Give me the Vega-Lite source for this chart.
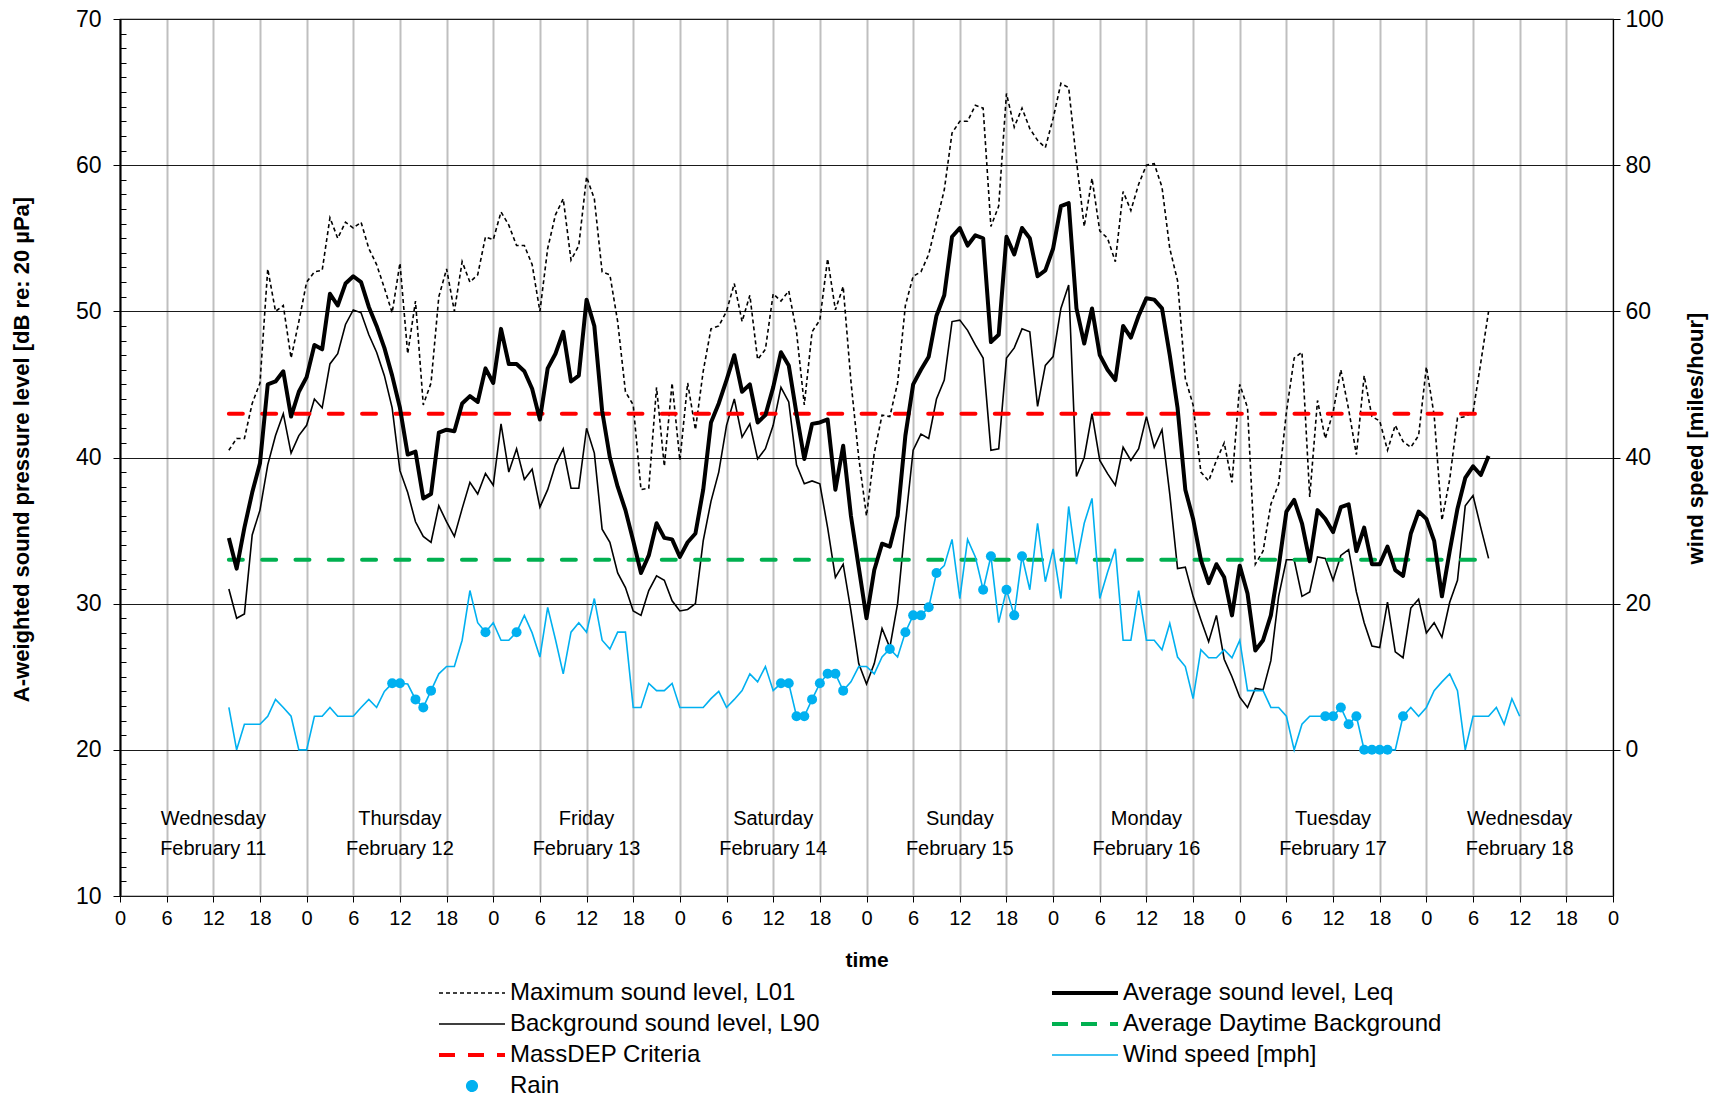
{
"$schema": "https://vega.github.io/schema/vega-lite/v6.json",
"width": 1493, "height": 877,
"autosize": {"type": "none"},
"padding": {"left": 120, "top": 19, "right": 108, "bottom": 204},
"background": "white",
"config": {
  "font": "Liberation Sans",
  "view": {"stroke": "#000", "strokeWidth": 1.2},
  "axis": {"labelFont": "Liberation Sans", "titleFont": "Liberation Sans", "labelColor": "#000", "titleColor": "#000", "tickColor": "#000", "domainColor": "#000"}
},
"datasets": {
"main": [
{"t":14,"L01":40.5,"Leq":34.5,"L90":31.0},{"t":15,"L01":41.3,"Leq":32.4,"L90":29.0},{"t":16,"L01":41.3,"Leq":35.2,"L90":29.3},{"t":17,"L01":43.7,"Leq":37.6,"L90":34.7},{"t":18,"L01":45.1,"Leq":39.6,"L90":36.4},{"t":19,"L01":52.9,"Leq":45.0,"L90":39.5},{"t":20,"L01":50.0,"Leq":45.2,"L90":41.5},{"t":21,"L01":50.4,"Leq":45.9,"L90":43.0},{"t":22,"L01":46.8,"Leq":42.8,"L90":40.3},{"t":23,"L01":49.3,"Leq":44.5,"L90":41.5},
{"t":24,"L01":52.0,"Leq":45.5,"L90":42.2},{"t":25,"L01":52.7,"Leq":47.7,"L90":44.0},{"t":26,"L01":52.8,"Leq":47.4,"L90":43.4},{"t":27,"L01":56.4,"Leq":51.2,"L90":46.4},{"t":28,"L01":55.0,"Leq":50.4,"L90":47.1},{"t":29,"L01":56.1,"Leq":51.9,"L90":49.1},{"t":30,"L01":55.7,"Leq":52.4,"L90":50.1},{"t":31,"L01":56.1,"Leq":52.0,"L90":49.9},{"t":32,"L01":54.3,"Leq":50.3,"L90":48.4},{"t":33,"L01":53.2,"Leq":49.0,"L90":47.2},
{"t":34,"L01":51.6,"Leq":47.5,"L90":45.6},{"t":35,"L01":49.9,"Leq":45.6,"L90":43.4},{"t":36,"L01":53.3,"Leq":43.4,"L90":39.1},{"t":37,"L01":47.1,"Leq":40.2,"L90":37.6},{"t":38,"L01":50.7,"Leq":40.4,"L90":35.6},{"t":39,"L01":43.6,"Leq":37.2,"L90":34.6},{"t":40,"L01":45.1,"Leq":37.5,"L90":34.2},{"t":41,"L01":51.0,"Leq":41.7,"L90":36.7},{"t":42,"L01":52.9,"Leq":41.9,"L90":35.6},{"t":43,"L01":50.0,"Leq":41.8,"L90":34.6},
{"t":44,"L01":53.4,"Leq":43.7,"L90":36.5},{"t":45,"L01":52.0,"Leq":44.2,"L90":38.3},{"t":46,"L01":52.5,"Leq":43.8,"L90":37.5},{"t":47,"L01":55.1,"Leq":46.1,"L90":38.9},{"t":48,"L01":54.9,"Leq":45.1,"L90":38.1},{"t":49,"L01":56.8,"Leq":48.8,"L90":42.3},{"t":50,"L01":55.9,"Leq":46.4,"L90":39.0},{"t":51,"L01":54.5,"Leq":46.4,"L90":40.6},{"t":52,"L01":54.5,"Leq":45.9,"L90":38.5},{"t":53,"L01":53.2,"Leq":44.7,"L90":39.2},
{"t":54,"L01":50.0,"Leq":42.6,"L90":36.6},{"t":55,"L01":54.3,"Leq":46.1,"L90":37.8},{"t":56,"L01":56.6,"Leq":47.1,"L90":39.5},{"t":57,"L01":57.7,"Leq":48.6,"L90":40.6},{"t":58,"L01":53.5,"Leq":45.2,"L90":37.9},{"t":59,"L01":54.5,"Leq":45.6,"L90":37.9},{"t":60,"L01":59.2,"Leq":50.8,"L90":42.0},{"t":61,"L01":57.7,"Leq":49.0,"L90":40.3},{"t":62,"L01":52.7,"Leq":43.2,"L90":35.1},{"t":63,"L01":52.5,"Leq":40.0,"L90":34.2},
{"t":64,"L01":49.3,"Leq":38.0,"L90":32.1},{"t":65,"L01":44.5,"Leq":36.4,"L90":31.1},{"t":66,"L01":43.6,"Leq":34.3,"L90":29.5},{"t":67,"L01":37.8,"Leq":32.1,"L90":29.2},{"t":68,"L01":37.9,"Leq":33.3,"L90":30.9},{"t":69,"L01":44.8,"Leq":35.5,"L90":31.9},{"t":70,"L01":39.4,"Leq":34.5,"L90":31.6},{"t":71,"L01":45.1,"Leq":34.4,"L90":30.2},{"t":72,"L01":39.8,"Leq":33.2,"L90":29.5},{"t":73,"L01":45.1,"Leq":34.2,"L90":29.6},
{"t":74,"L01":41.9,"Leq":34.8,"L90":30.0},{"t":75,"L01":45.9,"Leq":37.8,"L90":34.3},{"t":76,"L01":48.8,"Leq":42.4,"L90":37.0},{"t":77,"L01":49.0,"Leq":43.7,"L90":39.0},{"t":78,"L01":50.0,"Leq":45.3,"L90":42.2},{"t":79,"L01":51.9,"Leq":47.0,"L90":44.0},{"t":80,"L01":49.3,"Leq":44.5,"L90":41.4},{"t":81,"L01":51.1,"Leq":45.0,"L90":42.3},{"t":82,"L01":46.7,"Leq":42.4,"L90":39.9},{"t":83,"L01":47.4,"Leq":42.9,"L90":40.6},
{"t":84,"L01":51.2,"Leq":44.8,"L90":42.2},{"t":85,"L01":50.7,"Leq":47.2,"L90":44.8},{"t":86,"L01":51.4,"Leq":46.3,"L90":43.8},{"t":87,"L01":48.6,"Leq":43.0,"L90":39.5},{"t":88,"L01":43.6,"Leq":39.9,"L90":38.2},{"t":89,"L01":48.6,"Leq":42.3,"L90":38.4},{"t":90,"L01":49.4,"Leq":42.4,"L90":38.2},{"t":91,"L01":53.6,"Leq":42.6,"L90":35.2},{"t":92,"L01":50.1,"Leq":37.8,"L90":31.8},{"t":93,"L01":51.7,"Leq":40.8,"L90":32.7},
{"t":94,"L01":45.2,"Leq":36.0,"L90":29.5},{"t":95,"L01":40.0,"Leq":32.5,"L90":25.9},{"t":96,"L01":36.0,"Leq":29.0,"L90":24.5},{"t":97,"L01":40.3,"Leq":32.3,"L90":25.9},{"t":98,"L01":42.9,"Leq":34.1,"L90":28.3},{"t":99,"L01":42.8,"Leq":33.9,"L90":27.0},{"t":100,"L01":45.1,"Leq":36.0,"L90":30.0},{"t":101,"L01":50.4,"Leq":41.5,"L90":35.5},{"t":102,"L01":52.4,"Leq":45.0,"L90":40.5},{"t":103,"L01":52.7,"Leq":46.0,"L90":41.6},
{"t":104,"L01":53.9,"Leq":46.9,"L90":41.3},{"t":105,"L01":56.1,"Leq":49.7,"L90":44.0},{"t":106,"L01":58.3,"Leq":51.1,"L90":45.3},{"t":107,"L01":62.2,"Leq":55.1,"L90":49.3},{"t":108,"L01":63.0,"Leq":55.7,"L90":49.4},{"t":109,"L01":63.0,"Leq":54.5,"L90":48.7},{"t":110,"L01":64.1,"Leq":55.2,"L90":47.7},{"t":111,"L01":63.9,"Leq":55.0,"L90":46.8},{"t":112,"L01":55.8,"Leq":47.9,"L90":40.5},{"t":113,"L01":57.2,"Leq":48.4,"L90":40.6},
{"t":114,"L01":64.9,"Leq":55.1,"L90":46.8},{"t":115,"L01":62.6,"Leq":53.9,"L90":47.5},{"t":116,"L01":63.9,"Leq":55.7,"L90":48.8},{"t":117,"L01":62.5,"Leq":55.0,"L90":48.6},{"t":118,"L01":61.7,"Leq":52.4,"L90":43.5},{"t":119,"L01":61.2,"Leq":52.8,"L90":46.3},{"t":120,"L01":63.2,"Leq":54.3,"L90":46.9},{"t":121,"L01":65.6,"Leq":57.2,"L90":50.2},{"t":122,"L01":65.3,"Leq":57.4,"L90":51.8},{"t":123,"L01":60.3,"Leq":50.2,"L90":38.7},
{"t":124,"L01":55.8,"Leq":47.8,"L90":40.0},{"t":125,"L01":59.1,"Leq":50.2,"L90":43.0},{"t":126,"L01":55.5,"Leq":47.0,"L90":39.8},{"t":127,"L01":55.0,"Leq":46.0,"L90":38.9},{"t":128,"L01":53.4,"Leq":45.3,"L90":38.1},{"t":129,"L01":58.2,"Leq":49.0,"L90":40.7},{"t":130,"L01":56.9,"Leq":48.2,"L90":39.8},{"t":131,"L01":58.7,"Leq":49.7,"L90":40.6},{"t":132,"L01":60.0,"Leq":50.9,"L90":42.8},{"t":133,"L01":60.1,"Leq":50.8,"L90":40.7},
{"t":134,"L01":58.5,"Leq":50.2,"L90":41.9},{"t":135,"L01":54.3,"Leq":47.0,"L90":37.5},{"t":136,"L01":52.1,"Leq":43.4,"L90":32.4},{"t":137,"L01":45.4,"Leq":37.8,"L90":32.5},{"t":138,"L01":43.6,"Leq":35.8,"L90":30.5},{"t":139,"L01":39.0,"Leq":33.0,"L90":28.9},{"t":140,"L01":38.4,"Leq":31.4,"L90":27.4},{"t":141,"L01":39.8,"Leq":32.7,"L90":29.2},{"t":142,"L01":41.0,"Leq":31.8,"L90":26.2},{"t":143,"L01":38.3,"Leq":29.2,"L90":25.0},
{"t":144,"L01":45.0,"Leq":32.6,"L90":23.6},{"t":145,"L01":43.4,"Leq":30.7,"L90":22.9},{"t":146,"L01":32.7,"Leq":26.8,"L90":24.2},{"t":147,"L01":33.6,"Leq":27.5,"L90":24.1},{"t":148,"L01":36.8,"Leq":29.2,"L90":26.1},{"t":149,"L01":38.2,"Leq":32.5,"L90":30.5},{"t":150,"L01":43.1,"Leq":36.3,"L90":33.0},{"t":151,"L01":46.8,"Leq":37.1,"L90":33.0},{"t":152,"L01":47.2,"Leq":35.5,"L90":30.5},{"t":153,"L01":37.3,"Leq":32.9,"L90":30.8},
{"t":154,"L01":43.9,"Leq":36.4,"L90":33.2},{"t":155,"L01":41.3,"Leq":35.8,"L90":33.1},{"t":156,"L01":43.1,"Leq":34.9,"L90":31.6},{"t":157,"L01":46.0,"Leq":36.6,"L90":33.3},{"t":158,"L01":43.3,"Leq":36.8,"L90":33.7},{"t":159,"L01":40.2,"Leq":33.6,"L90":30.8},{"t":160,"L01":45.6,"Leq":35.2,"L90":28.7},{"t":161,"L01":42.8,"Leq":32.7,"L90":27.1},{"t":162,"L01":42.5,"Leq":32.7,"L90":27.0},{"t":163,"L01":40.5,"Leq":33.9,"L90":30.1},
{"t":164,"L01":42.2,"Leq":32.3,"L90":26.7},{"t":165,"L01":41.1,"Leq":31.9,"L90":26.3},{"t":166,"L01":40.7,"Leq":34.8,"L90":29.7},{"t":167,"L01":41.5,"Leq":36.3,"L90":30.3},{"t":168,"L01":46.2,"Leq":35.8,"L90":28.0},{"t":169,"L01":42.9,"Leq":34.3,"L90":28.7},{"t":170,"L01":35.7,"Leq":30.5,"L90":27.7},{"t":171,"L01":38.5,"Leq":33.6,"L90":30.1},{"t":172,"L01":42.7,"Leq":36.5,"L90":31.6},{"t":173,"L01":42.8,"Leq":38.6,"L90":36.7},
{"t":174,"L01":43.1,"Leq":39.4,"L90":37.4},{"t":175,"L01":46.5,"Leq":38.8,"L90":35.2},{"t":176,"L01":50.0,"Leq":40.1,"L90":33.1}
],
"wind": [
{"t":14,"wind":5.8,"rain":0},{"t":15,"wind":0,"rain":0},{"t":16,"wind":3.5,"rain":0},{"t":17,"wind":3.5,"rain":0},{"t":18,"wind":3.5,"rain":0},{"t":19,"wind":4.6,"rain":0},{"t":20,"wind":6.9,"rain":0},{"t":21,"wind":5.8,"rain":0},{"t":22,"wind":4.6,"rain":0},{"t":23,"wind":0,"rain":0},
{"t":24,"wind":0,"rain":0},{"t":25,"wind":4.6,"rain":0},{"t":26,"wind":4.6,"rain":0},{"t":27,"wind":5.8,"rain":0},{"t":28,"wind":4.6,"rain":0},{"t":29,"wind":4.6,"rain":0},{"t":30,"wind":4.6,"rain":0},{"t":31,"wind":5.8,"rain":0},{"t":32,"wind":6.9,"rain":0},{"t":33,"wind":5.8,"rain":0},
{"t":34,"wind":8.0,"rain":0},{"t":35,"wind":9.1,"rain":1},{"t":36,"wind":9.1,"rain":1},{"t":37,"wind":9.0,"rain":0},{"t":38,"wind":6.9,"rain":1},{"t":39,"wind":5.8,"rain":1},{"t":40,"wind":8.1,"rain":1},{"t":41,"wind":10.4,"rain":0},{"t":42,"wind":11.4,"rain":0},{"t":43,"wind":11.4,"rain":0},
{"t":44,"wind":15.0,"rain":0},{"t":45,"wind":21.8,"rain":0},{"t":46,"wind":17.4,"rain":0},{"t":47,"wind":16.1,"rain":1},{"t":48,"wind":17.4,"rain":0},{"t":49,"wind":15.0,"rain":0},{"t":50,"wind":15.0,"rain":0},{"t":51,"wind":16.1,"rain":1},{"t":52,"wind":18.4,"rain":0},{"t":53,"wind":16.0,"rain":0},
{"t":54,"wind":12.7,"rain":0},{"t":55,"wind":19.5,"rain":0},{"t":56,"wind":15.1,"rain":0},{"t":57,"wind":10.4,"rain":0},{"t":58,"wind":16.1,"rain":0},{"t":59,"wind":17.4,"rain":0},{"t":60,"wind":16.1,"rain":0},{"t":61,"wind":20.7,"rain":0},{"t":62,"wind":15.0,"rain":0},{"t":63,"wind":13.8,"rain":0},
{"t":64,"wind":16.1,"rain":0},{"t":65,"wind":16.1,"rain":0},{"t":66,"wind":5.8,"rain":0},{"t":67,"wind":5.8,"rain":0},{"t":68,"wind":9.1,"rain":0},{"t":69,"wind":8.1,"rain":0},{"t":70,"wind":8.1,"rain":0},{"t":71,"wind":9.1,"rain":0},{"t":72,"wind":5.8,"rain":0},{"t":73,"wind":5.8,"rain":0},
{"t":74,"wind":5.8,"rain":0},{"t":75,"wind":5.8,"rain":0},{"t":76,"wind":7.0,"rain":0},{"t":77,"wind":8.0,"rain":0},{"t":78,"wind":5.8,"rain":0},{"t":79,"wind":6.9,"rain":0},{"t":80,"wind":8.1,"rain":0},{"t":81,"wind":10.4,"rain":0},{"t":82,"wind":9.3,"rain":0},{"t":83,"wind":11.4,"rain":0},
{"t":84,"wind":8.1,"rain":0},{"t":85,"wind":9.1,"rain":1},{"t":86,"wind":9.1,"rain":1},{"t":87,"wind":4.6,"rain":1},{"t":88,"wind":4.6,"rain":1},{"t":89,"wind":6.9,"rain":1},{"t":90,"wind":9.1,"rain":1},{"t":91,"wind":10.4,"rain":1},{"t":92,"wind":10.4,"rain":1},{"t":93,"wind":8.1,"rain":1},
{"t":94,"wind":9.3,"rain":0},{"t":95,"wind":11.4,"rain":0},{"t":96,"wind":11.4,"rain":0},{"t":97,"wind":10.4,"rain":0},{"t":98,"wind":12.7,"rain":0},{"t":99,"wind":13.8,"rain":1},{"t":100,"wind":12.7,"rain":0},{"t":101,"wind":16.1,"rain":1},{"t":102,"wind":18.4,"rain":1},{"t":103,"wind":18.4,"rain":1},
{"t":104,"wind":19.5,"rain":1},{"t":105,"wind":24.2,"rain":1},{"t":106,"wind":25.2,"rain":0},{"t":107,"wind":28.8,"rain":0},{"t":108,"wind":20.7,"rain":0},{"t":109,"wind":28.8,"rain":0},{"t":110,"wind":26.4,"rain":0},{"t":111,"wind":21.9,"rain":1},{"t":112,"wind":26.5,"rain":1},{"t":113,"wind":17.4,"rain":0},
{"t":114,"wind":21.9,"rain":1},{"t":115,"wind":18.4,"rain":1},{"t":116,"wind":26.5,"rain":1},{"t":117,"wind":21.9,"rain":0},{"t":118,"wind":31.0,"rain":0},{"t":119,"wind":23.0,"rain":0},{"t":120,"wind":27.5,"rain":0},{"t":121,"wind":20.7,"rain":0},{"t":122,"wind":33.3,"rain":0},{"t":123,"wind":25.4,"rain":0},
{"t":124,"wind":31.0,"rain":0},{"t":125,"wind":34.4,"rain":0},{"t":126,"wind":20.7,"rain":0},{"t":127,"wind":24.3,"rain":0},{"t":128,"wind":27.5,"rain":0},{"t":129,"wind":15.0,"rain":0},{"t":130,"wind":15.0,"rain":0},{"t":131,"wind":21.8,"rain":0},{"t":132,"wind":15.0,"rain":0},{"t":133,"wind":15.0,"rain":0},
{"t":134,"wind":13.7,"rain":0},{"t":135,"wind":17.3,"rain":0},{"t":136,"wind":12.7,"rain":0},{"t":137,"wind":11.4,"rain":0},{"t":138,"wind":7.0,"rain":0},{"t":139,"wind":13.7,"rain":0},{"t":140,"wind":12.6,"rain":0},{"t":141,"wind":12.6,"rain":0},{"t":142,"wind":13.7,"rain":0},{"t":143,"wind":12.6,"rain":0},
{"t":144,"wind":15.0,"rain":0},{"t":145,"wind":8.1,"rain":0},{"t":146,"wind":8.1,"rain":0},{"t":147,"wind":8.1,"rain":0},{"t":148,"wind":5.8,"rain":0},{"t":149,"wind":5.8,"rain":0},{"t":150,"wind":4.6,"rain":0},{"t":151,"wind":0,"rain":0},{"t":152,"wind":3.5,"rain":0},{"t":153,"wind":4.6,"rain":0},
{"t":154,"wind":4.6,"rain":0},{"t":155,"wind":4.6,"rain":1},{"t":156,"wind":4.6,"rain":1},{"t":157,"wind":5.8,"rain":1},{"t":158,"wind":3.5,"rain":1},{"t":159,"wind":4.6,"rain":1},{"t":160,"wind":0,"rain":1},{"t":161,"wind":0,"rain":1},{"t":162,"wind":0,"rain":1},{"t":163,"wind":0,"rain":1},
{"t":164,"wind":0,"rain":0},{"t":165,"wind":4.6,"rain":1},{"t":166,"wind":5.8,"rain":0},{"t":167,"wind":4.6,"rain":0},{"t":168,"wind":5.8,"rain":0},{"t":169,"wind":8.1,"rain":0},{"t":170,"wind":9.3,"rain":0},{"t":171,"wind":10.4,"rain":0},{"t":172,"wind":8.1,"rain":0},{"t":173,"wind":0,"rain":0},
{"t":174,"wind":4.6,"rain":0},{"t":175,"wind":4.6,"rain":0},{"t":176,"wind":4.6,"rain":0},{"t":177,"wind":5.8,"rain":0},{"t":178,"wind":3.5,"rain":0},{"t":179,"wind":7.0,"rain":0},{"t":180,"wind":4.6,"rain":0}
],
"crit": [{"t":14,"MassDEP":43,"Daytime":33},{"t":176,"MassDEP":43,"Daytime":33}],
"days": [
{"t":12,"label":"Wednesday\nFebruary 11"},{"t":36,"label":"Thursday\nFebruary 12"},{"t":60,"label":"Friday\nFebruary 13"},{"t":84,"label":"Saturday\nFebruary 14"},
{"t":108,"label":"Sunday\nFebruary 15"},{"t":132,"label":"Monday\nFebruary 16"},{"t":156,"label":"Tuesday\nFebruary 17"},{"t":180,"label":"Wednesday\nFebruary 18"}
]
},
"encoding": {
  "x": {"field": "t", "type": "quantitative", "title": "time",
    "scale": {"domain": [0, 192], "nice": false, "zero": false},
    "axis": {"values": [0,6,12,18,24,30,36,42,48,54,60,66,72,78,84,90,96,102,108,114,120,126,132,138,144,150,156,162,168,174,180,186,192],
      "tickCount": 40, "labelExpr": "'' + (datum.value % 24)", "grid": true, "gridColor": "#BFBFBF", "gridWidth": 2, "domain": false,
      "tickSize": 6, "labelFontSize": 20, "labelPadding": 6, "labelFlush": false, "labelOverlap": false,
      "titleFontSize": 21, "titleFontWeight": "bold", "titlePadding": 21}}
},
"layer": [
 {"layer": [
  {"data": {"name": "days"},
   "mark": {"type": "text", "fontSize": 20, "lineBreak": "\n", "lineHeight": 30, "baseline": "middle", "align": "center", "font": "Liberation Sans", "color": "#000"},
   "encoding": {"y": {"datum": 15.3, "type": "quantitative", "scale": {"domain": [10, 70], "nice": false, "zero": false}}, "text": {"field": "label"}}},
  {"data": {"name": "main"},
   "mark": {"type": "line", "strokeWidth": 1.6, "strokeDash": [4, 3]},
   "encoding": {
     "y": {"field": "L01", "type": "quantitative", "title": "A-weighted sound pressure level [dB re: 20 µPa]",
       "scale": {"domain": [10, 70], "nice": false, "zero": false},
       "axis": {"values": [10,11,12,13,14,15,16,17,18,19,20,21,22,23,24,25,26,27,28,29,30,31,32,33,34,35,36,37,38,39,40,41,42,43,44,45,46,47,48,49,50,51,52,53,54,55,56,57,58,59,60,61,62,63,64,65,66,67,68,69,70],
         "tickCount": 61,
         "labelExpr": "abs(datum.value / 10 - round(datum.value / 10)) < 0.01 ? format(round(datum.value), 'd') : ''", "labelOverlap": false, "labelBound": false,
         "grid": true, "gridColor": "#1a1a1a", "gridWidth": 1,
         "gridOpacity": {"condition": {"test": "abs(datum.value / 10 - round(datum.value / 10)) > 0.01", "value": 0}, "value": 1},
         "domain": true, "domainWidth": 2,
         "tickSize": {"condition": {"test": "abs(datum.value / 10 - round(datum.value / 10)) < 0.01", "value": 7}, "value": -6},
         "labelFontSize": 23, "labelPadding": 12, "titleFontSize": 22, "titleFontWeight": "bold", "titlePadding": 42, "titleY": 430}},
     "color": {"datum": "Maximum sound level, L01",
       "scale": {"domain": ["Maximum sound level, L01", "Average sound level, Leq", "Background sound level, L90", "Average Daytime Background", "MassDEP Criteria", "Wind speed [mph]", "Rain"],
                 "range": ["#000000", "#000000", "#000000", "#00B050", "#FF0000", "#00B0F0", "#00B0F0"]},
       "legend": {"orient": "none", "legendX": 318, "legendY": 962, "direction": "horizontal", "columns": 2, "columnPadding": 224, "rowPadding": 7, "title": null,
         "symbolType": "stroke", "symbolSize": 4356, "symbolStrokeWidth": 1.6, "symbolOffset": 22, "labelFont": "Liberation Sans", "labelFontSize": 24, "labelColor": "#000",
         "labelOffset": 26, "labelLimit": 0, "padding": 0,
         "encode": {"symbols": {"update": {
           "shape": {"signal": "datum.value === 'Rain' ? 'circle' : 'stroke'"},
           "size": {"signal": "datum.value === 'Rain' ? 110 : 4356"},
           "stroke": {"signal": "datum.value === 'Rain' ? 'transparent' : scale('color', datum.value)"},
           "fill": {"signal": "datum.value === 'Rain' ? '#00B0F0' : 'transparent'"},
           "strokeWidth": {"signal": "(datum.value === 'Average sound level, Leq' || datum.value === 'MassDEP Criteria' || datum.value === 'Average Daytime Background') ? 4 : 1.6"},
           "strokeDash": {"signal": "datum.value === 'Maximum sound level, L01' ? [4, 3] : ((datum.value === 'MassDEP Criteria' || datum.value === 'Average Daytime Background') ? [16, 13] : [1, 0])"},
           "opacity": {"value": 1}
         }}}}}
   }},
  {"data": {"name": "main"},
   "mark": {"type": "line", "strokeWidth": 1.6},
   "encoding": {"y": {"field": "L90", "type": "quantitative", "title": "A-weighted sound pressure level [dB re: 20 µPa]"},
     "color": {"datum": "Background sound level, L90"}}},
  {"data": {"name": "crit"},
   "mark": {"type": "line", "strokeWidth": 4, "strokeDash": [14, 19.3], "strokeCap": "round"},
   "encoding": {"y": {"field": "MassDEP", "type": "quantitative", "title": "A-weighted sound pressure level [dB re: 20 µPa]"},
     "color": {"datum": "MassDEP Criteria"}}},
  {"data": {"name": "crit"},
   "mark": {"type": "line", "strokeWidth": 4, "strokeDash": [14, 19.3], "strokeCap": "round"},
   "encoding": {"y": {"field": "Daytime", "type": "quantitative", "title": "A-weighted sound pressure level [dB re: 20 µPa]"},
     "color": {"datum": "Average Daytime Background"}}},
  {"data": {"name": "main"},
   "mark": {"type": "line", "strokeWidth": 4, "strokeJoin": "round"},
   "encoding": {"y": {"field": "Leq", "type": "quantitative", "title": "A-weighted sound pressure level [dB re: 20 µPa]"},
     "color": {"datum": "Average sound level, Leq"}}}
 ]},
 {"layer": [
  {"data": {"name": "wind"},
   "mark": {"type": "line", "strokeWidth": 1.6},
   "encoding": {
     "y": {"field": "wind", "type": "quantitative", "title": "wind speed [miles/hour]",
       "scale": {"domain": [-20, 100], "nice": false, "zero": false},
       "axis": {"orient": "right", "values": [0,20,40,60,80,100], "grid": false, "domain": true, "domainWidth": 1,
         "tickSize": 7, "labelFontSize": 23, "labelPadding": 5, "titleFontSize": 22, "titleFontWeight": "bold", "titlePadding": 44, "titleAngle": 270, "titleY": 419}},
     "color": {"datum": "Wind speed [mph]"}}},
  {"data": {"name": "wind"},
   "transform": [{"filter": "datum.rain == 1"}],
   "mark": {"type": "point", "filled": true, "size": 100, "opacity": 1, "shape": "circle"},
   "encoding": {"y": {"field": "wind", "type": "quantitative", "title": "wind speed [miles/hour]"},
     "color": {"datum": "Rain"}}}
 ]}
],
"resolve": {"scale": {"y": "independent"}}
}
